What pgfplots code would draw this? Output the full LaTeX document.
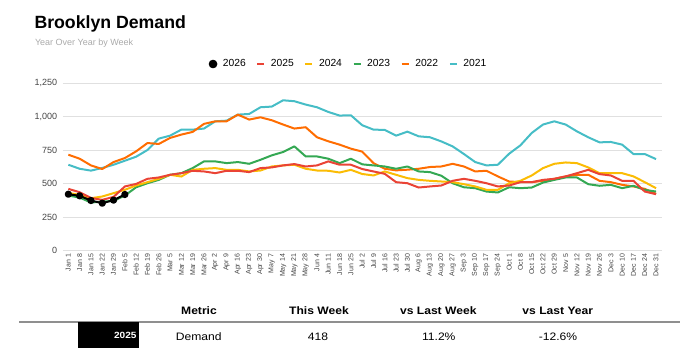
\documentclass[border=0pt]{standalone}
\usepackage{fontspec}
\setmainfont{Liberation Sans}
\newfontfamily\tablefont{Liberation Sans}[FakeStretch=1.12]
\usepackage{pgfplots}
\usepackage{pgfplotstable}
\pgfplotsset{compat=1.18}
\definecolor{c2025}{HTML}{EA4335}
\definecolor{c2024}{HTML}{FBBC04}
\definecolor{c2023}{HTML}{34A853}
\definecolor{c2022}{HTML}{FF6D01}
\definecolor{c2021}{HTML}{46BDC6}
\definecolor{subgray}{HTML}{AAAAAA}
\definecolor{tickgray}{HTML}{444444}
\definecolor{gridgray}{HTML}{E0E0E0}
\definecolor{basegray}{HTML}{CCCCCC}
\definecolor{rulegray}{HTML}{8F8F8F}

\pgfplotstableread{
v2021 v2022 v2023 v2024 v2025
640 715 410 430 460
610 685 395 415 435
596 635 358 390 392
616 608 365 403 378
640 660 370 428 400
670 690 410 453 478
700 740 472 485 497
750 802 502 510 535
835 795 527 535 545
857 840 565 565 565
902 865 577 552 577
902 885 615 602 595
910 945 665 610 590
964 964 665 615 577
969 964 652 602 595
1014 1014 660 602 595
1019 977 647 590 585
1069 994 677 597 615
1074 972 710 627 620
1121 940 735 635 635
1114 910 777 640 645
1089 920 702 610 627
1069 845 702 597 635
1034 815 685 595 665
1007 790 652 582 640
1009 760 685 602 640
935 738 643 571 608
902 652 635 560 590
900 610 627 590 572
857 598 610 565 510
887 603 627 540 502
852 610 590 527 470
845 623 585 520 478
814 627 558 515 485
777 647 502 510 520
720 627 472 495 535
660 590 465 478 520
635 595 440 453 502
640 553 433 453 478
722 515 472 502 485
785 510 465 520 510
877 510 470 560 510
940 520 507 615 527
964 535 527 647 535
940 553 545 657 553
889 565 545 652 577
845 565 495 620 602
807 520 483 577 570
810 510 490 577 560
790 490 465 577 520
720 478 483 553 520
720 460 452 510 440
682 423 440 465 420
}\demand

\begin{document}
\begin{tikzpicture}
\useasboundingbox (0pt,0pt) rectangle (697pt,357pt);
% title
\node[anchor=base west, inner sep=0pt, font=\fontsize{17.7}{20}\selectfont\bfseries] at (34.3pt,328.3pt) {Brooklyn Demand};
\node[anchor=base west, inner sep=0pt, text=subgray, font=\fontsize{9}{11}\selectfont] at (34.8pt,311pt) {Year Over Year by Week};

\begin{axis}[
  at={(62.7pt,106.5pt)}, anchor=south west,
  scale only axis, width=599pt, height=167.5pt,
  xmin=-0.5, xmax=52.5, ymin=0, ymax=1250,
  axis line style={draw=none},
  tick style={draw=none},
  ymajorgrids,
  major grid style={color=gridgray, line width=0.8pt},
  ytick={250,500,750,1000,1250},
  extra y ticks={0},
  extra y tick style={grid style={color=basegray, line width=1.8pt}},
  /pgf/number format/assume math mode=true,
  /pgf/number format/1000 sep={,},
  yticklabel style={font=\fontsize{9}{11}\selectfont, text=tickgray, xshift=-2pt},
  xtick={0,...,52},
  xticklabels={Jan 1,Jan 8,Jan 15,Jan 22,Jan 29,Feb 5,Feb 12,Feb 19,Feb 26,Mar 5,Mar 12,Mar 19,Mar 26,Apr 2,Apr 9,Apr 16,Apr 23,Apr 30,May 7,May 14,May 21,May 28,Jun 4,Jun 11,Jun 18,Jun 25,Jul 2,Jul 9,Jul 16,Jul 23,Jul 30,Aug 6,Aug 13,Aug 20,Aug 27,Sep 3,Sep 10,Sep 17,Sep 24,Oct 1,Oct 8,Oct 15,Oct 22,Oct 29,Nov 5,Nov 12,Nov 19,Nov 26,Dec 3,Dec 10,Dec 17,Dec 24,Dec 31},
  xticklabel style={rotate=90, anchor=east, font=\fontsize{7}{8}\selectfont, text=tickgray},
  legend columns=6,
  legend style={at={(0.4755,1.1134)}, anchor=center, draw=none, fill=none,
    font=\fontsize{10.3}{12}\selectfont,
    nodes={inner sep=0pt},
    /tikz/every odd column/.append style={column sep=5.5pt},
    /tikz/every even column/.append style={column sep=10.5pt}},
  every axis plot/.append style={line width=2pt, line join=round},
]
\addlegendimage{legend image code/.code={\fill[black] (3.4pt,0pt) circle (3.3pt);}}
\addlegendentry{2026}
\addlegendimage{legend image code/.code={\draw[c2025, line width=2.2pt] (0pt,0pt) -- (7pt,0pt);}}
\addlegendentry{2025}
\addlegendimage{legend image code/.code={\draw[c2024, line width=2.2pt] (0pt,0pt) -- (7pt,0pt);}}
\addlegendentry{2024}
\addlegendimage{legend image code/.code={\draw[c2023, line width=2.2pt] (0pt,0pt) -- (7pt,0pt);}}
\addlegendentry{2023}
\addlegendimage{legend image code/.code={\draw[c2022, line width=2.2pt] (0pt,0pt) -- (7pt,0pt);}}
\addlegendentry{2022}
\addlegendimage{legend image code/.code={\draw[c2021, line width=2.2pt] (0pt,0pt) -- (7pt,0pt);}}
\addlegendentry{2021}

\addplot[c2021, no marks, forget plot] table[x expr=\coordindex, y=v2021] {\demand};
\addplot[c2022, no marks, forget plot] table[x expr=\coordindex, y=v2022] {\demand};
\addplot[c2023, no marks, forget plot] table[x expr=\coordindex, y=v2023] {\demand};
\addplot[c2024, no marks, forget plot] table[x expr=\coordindex, y=v2024] {\demand};
\addplot[c2025, no marks, forget plot] table[x expr=\coordindex, y=v2025] {\demand};
\addplot[black, mark=*, mark size=2.6pt, forget plot] coordinates {(0,420) (1,408) (2,373) (3,353) (4,376) (5,418)};
\end{axis}

% table
\draw[rulegray, line width=1.7pt] (19pt,34.7pt) -- (680pt,34.7pt);
\fill[black] (78pt,9.3pt) rectangle (138.7pt,35.4pt);
\node[anchor=base east, inner sep=0pt, text=white, font=\tablefont\fontsize{9}{11}\selectfont\bfseries] at (136.7pt,18.7pt) {2025};
\begin{scope}[every node/.style={anchor=base, inner sep=0pt}]
\node[font=\tablefont\fontsize{10.8}{13}\selectfont\bfseries] at (199pt,42.7pt) {Metric};
\node[font=\tablefont\fontsize{10.8}{13}\selectfont\bfseries] at (319pt,42.7pt) {This Week};
\node[font=\tablefont\fontsize{10.8}{13}\selectfont\bfseries] at (438.3pt,42.7pt) {vs Last Week};
\node[font=\tablefont\fontsize{10.8}{13}\selectfont\bfseries] at (557.8pt,42.7pt) {vs Last Year};
\node[font=\tablefont\fontsize{10.8}{13}\selectfont] at (198.7pt,17pt) {Demand};
\node[font=\tablefont\fontsize{10.8}{13}\selectfont] at (318pt,17pt) {418};
\node[font=\tablefont\fontsize{10.8}{13}\selectfont] at (438.8pt,17pt) {11.2\%};
\node[font=\tablefont\fontsize{10.8}{13}\selectfont] at (558pt,17pt) {-12.6\%};
\end{scope}
\end{tikzpicture}
\end{document}
